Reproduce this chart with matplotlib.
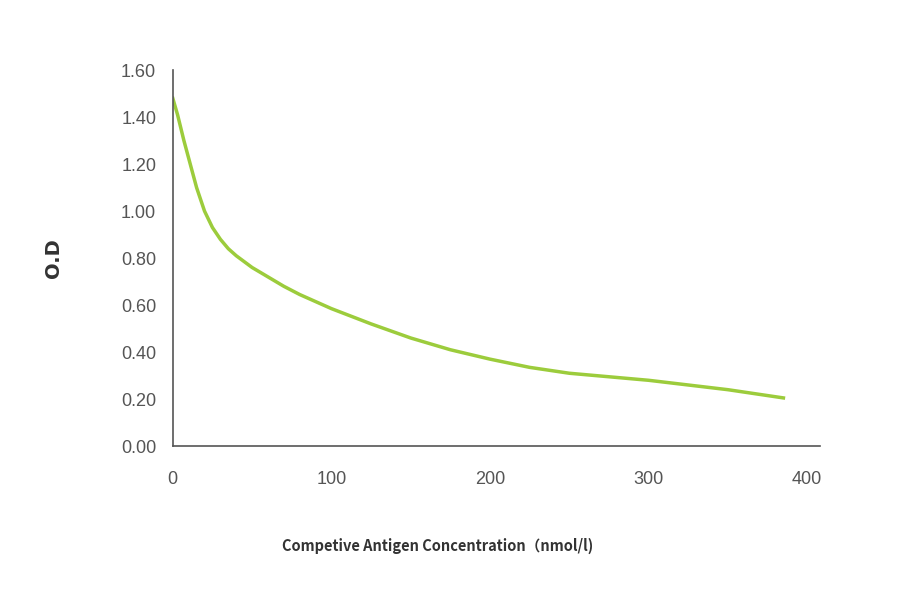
import matplotlib
matplotlib.use("Agg")
import matplotlib.pyplot as plt

conc = [0, 3, 7, 11, 15, 20, 25, 30, 35, 40, 50, 60, 70, 80, 100, 125, 150, 175, 200, 225, 250, 275, 300, 325, 350, 385]
od = [1.48, 1.41, 1.30, 1.20, 1.10, 1.00, 0.93, 0.88, 0.84, 0.81, 0.76, 0.72, 0.68, 0.645, 0.585, 0.52, 0.46, 0.41, 0.37, 0.335, 0.31, 0.295, 0.28, 0.26, 0.24, 0.205]
xticks = [0, 100, 200, 300, 400]
yticks = [0.0, 0.2, 0.4, 0.6, 0.8, 1.0, 1.2, 1.4, 1.6]

fig = plt.figure(figsize=(9, 5.94), dpi=100)
ax = fig.add_axes([0.192, 0.249, 0.719, 0.633])
ax.plot(conc, od, color="#9ccc3c", lw=2.5, solid_joinstyle="round")
ax.set_xlim(0, 408)
ax.set_ylim(0, 1.6)
ax.set_xticks(xticks)
ax.set_yticks(yticks)
ax.set_yticklabels([f"{v:.2f}" for v in yticks])
for s in ["top", "right"]:
    ax.spines[s].set_visible(False)
for s in ["left", "bottom"]:
    ax.spines[s].set_color("#555555")
    ax.spines[s].set_linewidth(1.2)
for lab in ax.get_xticklabels() + ax.get_yticklabels():
    lab.set_family("Liberation Sans")
ax.tick_params(length=0, labelsize=13, colors="#555555", pad=12)
ax.tick_params(axis="x", pad=18)
ax.set_ylabel("O.D", fontsize=14, fontweight="bold", color="#333333", labelpad=42)
fig.text(0.486, 0.072, "Competive Antigen Concentration（nmol/l)", ha="center", fontsize=10.5,
         fontweight="bold", color="#333333", family=["Noto Sans CJK SC", "DejaVu Sans"])
fig.savefig("out.png")
